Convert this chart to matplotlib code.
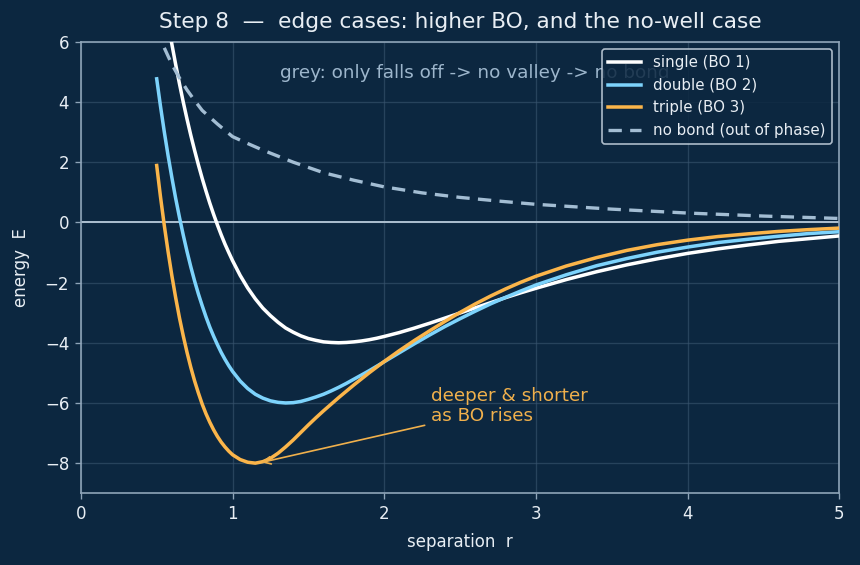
import matplotlib
matplotlib.use("Agg")
import matplotlib.pyplot as plt

# separation values shared by the three bonded curves (denser on the steep wall)
r = [0.5, 0.525, 0.55, 0.575, 0.6, 0.625, 0.65, 0.675, 0.7, 0.725, 0.75, 0.775,
     0.8, 0.825, 0.85, 0.875, 0.9, 0.925, 0.95, 0.975,
     1.0, 1.05, 1.1, 1.15, 1.2, 1.25, 1.3, 1.35, 1.4, 1.45, 1.5,
     1.55, 1.6, 1.65, 1.7, 1.75, 1.8, 1.85, 1.9, 1.95, 2.0,
     2.1, 2.2, 2.3, 2.4, 2.5,
     2.6, 2.7, 2.8, 2.9, 3.0, 3.2, 3.4, 3.6, 3.8, 4.0,
     4.2, 4.4, 4.6, 4.8, 5.0]

single = [9.06, 8.21, 7.41, 6.64, 5.92, 5.25, 4.61, 4.00, 3.43, 2.89, 2.39, 1.91,
          1.46, 1.04, 0.64, 0.27, -0.08, -0.41, -0.72, -1.00,
          -1.27, -1.76, -2.18, -2.54, -2.85, -3.10, -3.32, -3.51, -3.65, -3.77, -3.86,
          -3.92, -3.97, -3.99, -4.00, -3.99, -3.97, -3.94, -3.90, -3.85, -3.79,
          -3.66, -3.51, -3.35, -3.18, -3.01,
          -2.84, -2.67, -2.50, -2.34, -2.19, -1.90, -1.64, -1.41, -1.21, -1.03,
          -0.88, -0.75, -0.63, -0.54, -0.45]

double = [4.77, 3.86, 3.01, 2.22, 1.49, 0.80, 0.17, -0.42, -0.97, -1.48, -1.95, -2.38,
          -2.77, -3.14, -3.48, -3.78, -4.06, -4.32, -4.55, -4.76,
          -4.95, -5.27, -5.52, -5.71, -5.84, -5.93, -5.98, -6.00, -5.99, -5.95, -5.88,
          -5.80, -5.71, -5.60, -5.48, -5.35, -5.21, -5.07, -4.93, -4.78, -4.63,
          -4.33, -4.03, -3.74, -3.46, -3.20,
          -2.95, -2.71, -2.49, -2.28, -2.08, -1.74, -1.44, -1.20, -0.99, -0.82,
          -0.67, -0.56, -0.46, -0.37, -0.31]

triple = [1.89, 0.85, -0.10, -0.97, -1.77, -2.50, -3.17, -3.77, -4.32, -4.82, -5.27, -5.67,
          -6.04, -6.36, -6.64, -6.89, -7.11, -7.30, -7.46, -7.60,
          -7.72, -7.88, -7.97, -8.00, -7.95, -7.84, -7.67, -7.46, -7.23, -6.98, -6.73,
          -6.49, -6.26, -6.04, -5.82, -5.61, -5.40, -5.20, -5.00, -4.81, -4.62,
          -4.26, -3.92, -3.60, -3.29, -2.99,
          -2.71, -2.45, -2.21, -1.99, -1.79, -1.45, -1.17, -0.93, -0.74, -0.59,
          -0.47, -0.38, -0.30, -0.24, -0.19]

# out-of-phase curve
r_nb = [0.55, 0.6, 0.65, 0.7, 0.75, 0.8, 0.9, 1.0, 1.1, 1.2, 1.3, 1.4,
        1.6, 1.8, 2.0, 2.25, 2.5, 2.75, 3.0, 3.5, 4.0, 4.5, 5.0]
nobond = [5.8, 5.25, 4.8, 4.4, 4.05, 3.72, 3.27, 2.85, 2.62, 2.4, 2.2, 2.0,
          1.65, 1.40, 1.18, 0.98, 0.83, 0.71, 0.60, 0.44, 0.31, 0.21, 0.13]

bg = "#0c2740"
fg = "#e8eef4"
edge = "#8ea4b8"

fig = plt.figure(figsize=(860 / 120, 565 / 120), dpi=120, facecolor=bg)
ax = fig.add_axes([0.094, 0.127, 0.882, 0.799], facecolor=bg)

ax.axhline(0, color="#a9bccd", lw=1.2, zorder=1)
ax.plot(r, single, color="#ffffff", lw=2.1, label="single (BO 1)", zorder=3)
ax.plot(r, double, color="#7dd3fc", lw=2.1, label="double (BO 2)", zorder=3)
ax.plot(r, triple, color="#fbb54a", lw=2.1, label="triple (BO 3)", zorder=3)
ax.plot(r_nb, nobond, color="#a3bdd3", lw=2.0, ls=(0, (4, 2.5)),
        label="no bond (out of phase)", zorder=3)

ax.text(1.31, 4.95, "grey: only falls off -> no valley -> no bond",
        color="#9db6cc", fontsize=11, va="center", zorder=2)

ax.annotate("deeper & shorter\nas BO rises", xy=(1.17, -8.0), xytext=(2.31, -6.1),
            color="#f0b04c", fontsize=11, va="center",
            arrowprops=dict(arrowstyle="->", color="#f0b04c", lw=1.0))

ax.set_xlim(0, 5)
ax.set_ylim(-9, 6)
ax.set_xticks([0, 1, 2, 3, 4, 5])
ax.set_yticks([-8, -6, -4, -2, 0, 2, 4, 6])
ax.grid(True, color="#3a5670", lw=0.8, alpha=0.6)
ax.set_axisbelow(True)

for s in ax.spines.values():
    s.set_color(edge)
    s.set_linewidth(1.0)
ax.tick_params(colors=edge, labelcolor=fg, labelsize=10)

ax.set_title("Step 8  \u2014  edge cases: higher BO, and the no-well case",
             color=fg, fontsize=13, pad=8)
ax.set_xlabel("separation  r", color=fg, fontsize=10, labelpad=6)
ax.set_ylabel("energy  E", color=fg, fontsize=10, labelpad=9)

leg = ax.legend(loc="upper right", fontsize=9, facecolor=bg, edgecolor="#c9d6e2",
                framealpha=0.85, labelcolor=fg, handlelength=2.2)
leg.set_zorder(5)

fig.savefig("out.png", dpi=120, facecolor=bg)
